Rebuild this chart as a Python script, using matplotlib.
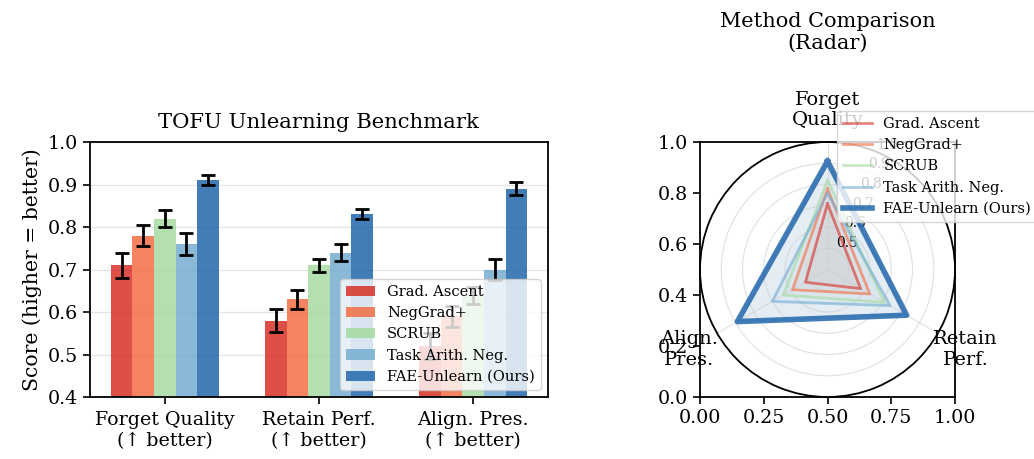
import numpy as np
import matplotlib
matplotlib.use("Agg")
import matplotlib.pyplot as plt

plt.rcParams["font.family"] = ["DejaVu Serif"]
plt.rcParams["axes.linewidth"] = 1.3
plt.rcParams["xtick.major.size"] = 5
plt.rcParams["ytick.major.size"] = 5
plt.rcParams["xtick.major.width"] = 1.2
plt.rcParams["ytick.major.width"] = 1.2

# data
metrics = ["Forget Quality\n(\u2191 better)", "Retain Perf.\n(\u2191 better)", "Align. Pres.\n(\u2191 better)"]
radar_labels = ["Forget\nQuality", "Retain\nPerf.", "Align.\nPres."]
methods = ["Grad. Ascent", "NegGrad+", "SCRUB", "Task Arith. Neg.", "FAE-Unlearn (Ours)"]
grad_ascent = [0.71, 0.58, 0.52]
neggrad = [0.78, 0.63, 0.59]
scrub = [0.82, 0.71, 0.64]
task_arith = [0.76, 0.74, 0.70]
fae = [0.91, 0.83, 0.89]
grad_ascent_err = [0.030, 0.027, 0.030]
neggrad_err = [0.025, 0.022, 0.025]
scrub_err = [0.020, 0.015, 0.020]
task_arith_err = [0.025, 0.020, 0.025]
fae_err = [0.012, 0.012, 0.015]

colors = ["#d73027", "#f46d43", "#a6dba0", "#74add1", "#2166ac"]

scores = [grad_ascent, neggrad, scrub, task_arith, fae]
errors = [grad_ascent_err, neggrad_err, scrub_err, task_arith_err, fae_err]

fig = plt.figure(figsize=(10.34, 4.59), dpi=100)

# grouped bars
ax = fig.add_axes([0.0870, 0.135, 0.4429, 0.5556])
x = np.arange(len(metrics))
width = 0.14
for i, (vals, errs) in enumerate(zip(scores, errors)):
    ax.bar(x + (i - 2) * width, vals, width, yerr=errs, color=colors[i], alpha=0.85,
           label=methods[i], capsize=5,
           error_kw=dict(elinewidth=2, capthick=2, ecolor="black"), zorder=2)
ax.set_ylim(0.4, 1.0)
ax.set_xticks(x)
ax.set_xticklabels(metrics, fontsize=13.7)
ax.tick_params(axis="x", pad=5)
ax.tick_params(axis="y", labelsize=13.7)
ax.set_ylabel("Score (higher = better)", fontsize=14.7)
ax.set_title("TOFU Unlearning Benchmark", fontsize=15.2, pad=10)
ax.yaxis.grid(True, color="#cccccc", alpha=0.5, lw=1)
ax.set_axisbelow(True)
ax.legend(loc="lower right", fontsize=10.5, framealpha=0.8)

# radar: a cartesian axes left underneath, polar drawn on top
rect = [0.677, 0.135, 0.2466, 0.5556]
ax_bg = fig.add_axes(rect)
ax_bg.tick_params(labelsize=13.7)

ax2 = fig.add_axes(rect, polar=True)
ax2.set_theta_offset(np.pi / 2)
ax2.set_theta_direction(-1)
angles = np.linspace(0, 2 * np.pi, len(radar_labels), endpoint=False)
closed = np.concatenate([angles, angles[:1]])
for i, vals in enumerate(scores):
    v = list(vals) + [vals[0]]
    if i == len(scores) - 1:
        ax2.plot(closed, v, color=colors[i], lw=4, alpha=0.85, label=methods[i])
        ax2.fill(closed, v, color=colors[i], alpha=0.12)
    else:
        ax2.plot(closed, v, color=colors[i], lw=2, alpha=0.6, label=methods[i])
        ax2.fill(closed, v, color=colors[i], alpha=0.05)
ax2.set_ylim(0.4, 1.0)
ax2.set_yticks([0.5, 0.6, 0.7, 0.8, 0.9, 1.0])
ax2.set_yticklabels(["0.5", "0.6", "0.7", "0.8", "0.9", "1.0"], fontsize=10)
ax2.set_xticks(angles)
ax2.set_xticklabels(radar_labels, fontsize=14)
ax2.tick_params(axis="x", pad=11)
ax2.grid(True, color="#cccccc", alpha=0.6, lw=0.8)
ax2.spines["polar"].set_linewidth(1.3)
ax2.set_title("Method Comparison\n(Radar)", fontsize=15, pad=67)
ax2.legend(loc="upper right", bbox_to_anchor=(1.35, 1.15), fontsize=10.5, framealpha=0.8)

fig.savefig("out.png", dpi=100)
